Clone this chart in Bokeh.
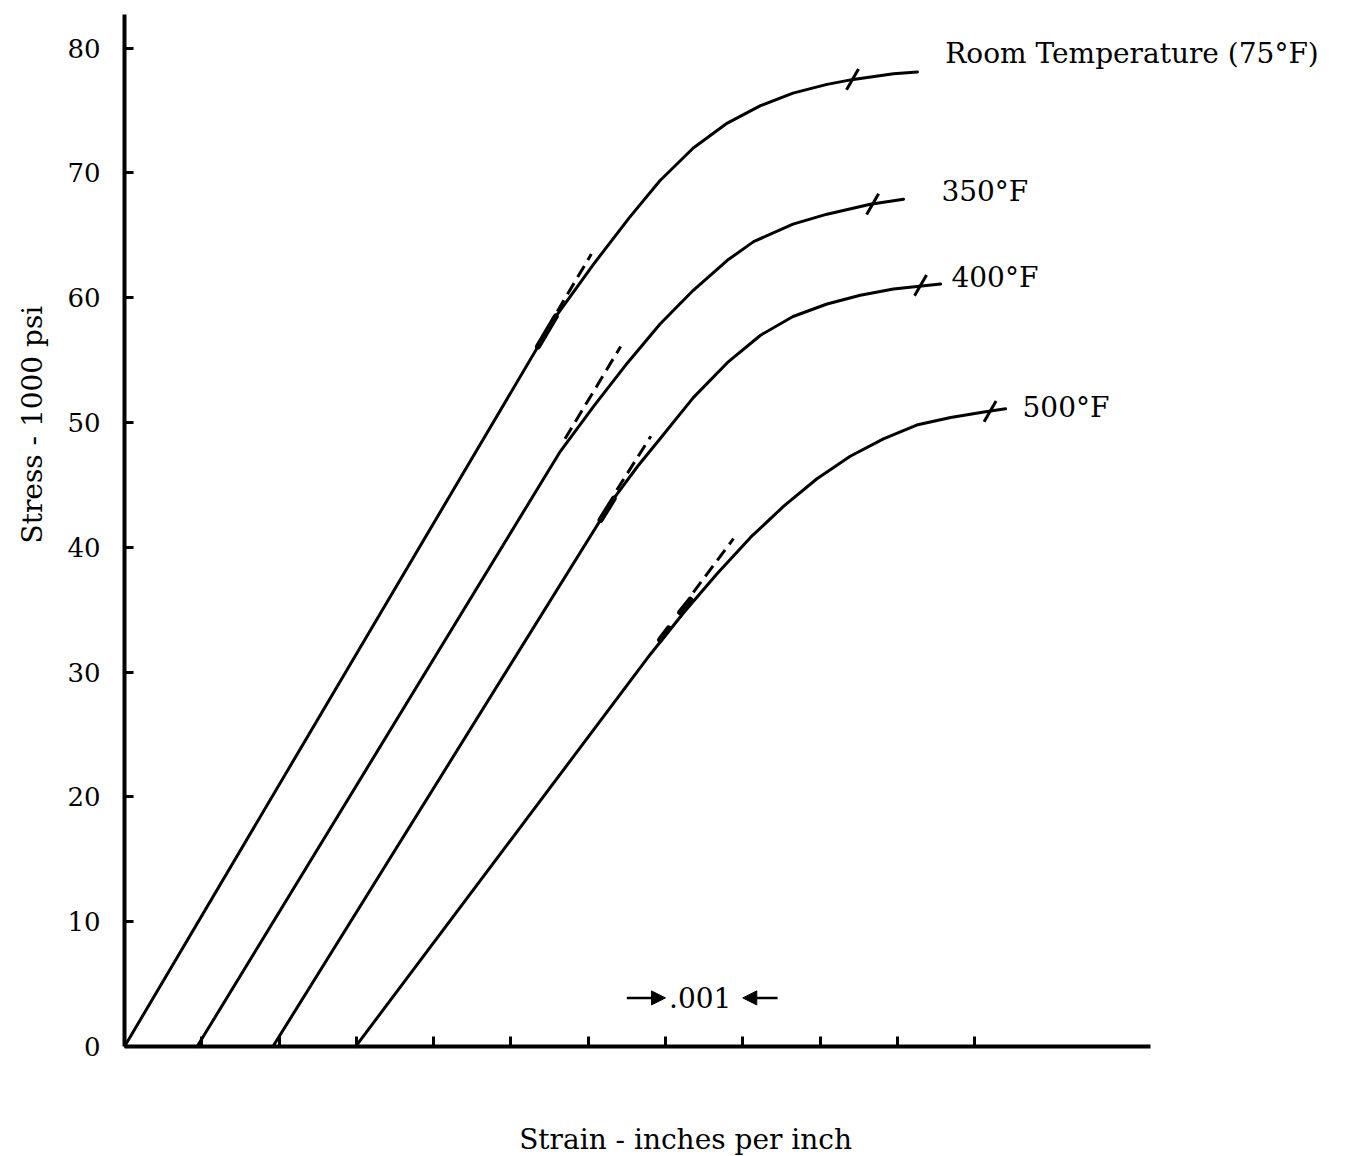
import math
from bokeh.plotting import figure
from bokeh.models import Range1d, FixedTicker, Arrow, NormalHead, Title
from bokeh.core.properties import value
from bokeh.embed import file_html
from bokeh.resources import INLINE

# Strain in units of 0.001 in/in (one x tick = .001), stress in 1000 psi
rt_strain = [0.0, 5.58, 6.07, 6.53, 6.93, 7.36, 7.80, 8.23, 8.65, 9.09, 9.43, 9.95, 10.26]
rt_stress = [0.0, 58.5, 62.7, 66.4, 69.4, 72.0, 74.0, 75.4, 76.4, 77.1, 77.5, 77.95, 78.1]
f350_strain = [0.94, 5.64, 6.07, 6.51, 6.93, 7.36, 7.80, 8.14, 8.65, 9.09, 9.65, 10.08]
f350_stress = [0.0, 47.7, 51.3, 54.8, 57.9, 60.6, 63.0, 64.5, 65.9, 66.7, 67.5, 67.9]
f400_strain = [1.92, 6.33, 6.64, 6.93, 7.36, 7.80, 8.23, 8.65, 9.09, 9.52, 9.95, 10.56]
f400_stress = [0.0, 43.9, 46.5, 48.7, 52.0, 54.8, 57.0, 58.5, 59.5, 60.2, 60.7, 61.1]
f500_strain = [2.99, 6.80, 7.24, 7.67, 8.10, 8.53, 8.96, 9.39, 9.82, 10.25, 10.69, 11.12, 11.40]
f500_stress = [0.0, 31.4, 34.8, 37.9, 40.8, 43.3, 45.5, 47.3, 48.7, 49.8, 50.4, 50.85, 51.1]

# dashed extensions of the elastic (straight) part
tangent_x0 = [5.60, 5.70, 6.37, 7.36]
tangent_y0 = [58.9, 48.7, 44.6, 36.4]
tangent_x1 = [6.04, 6.42, 6.81, 7.88]
tangent_y1 = [63.5, 56.1, 48.9, 40.7]

# heavy pencil strokes where the tangent leaves the curve
bold_x0 = [5.35, 6.16, 6.93, 7.19]
bold_y0 = [56.1, 42.2, 32.6, 34.8]
bold_x1 = [5.58, 6.33, 7.04, 7.32]
bold_y1 = [58.5, 43.9, 33.5, 35.8]

# cross marks near the end of each curve
mark_strain = [9.42, 9.68, 10.30, 11.20]
mark_stress = [77.5, 67.5, 61.0, 50.9]

# curve labels
curve_labels = ["Room Temperature (75\u00b0F)", "350\u00b0F", "400\u00b0F", "500\u00b0F"]
label_strain = [10.62, 10.57, 10.70, 11.62]
label_stress = [79.6, 68.5, 61.6, 51.2]

# axis ticks
y_ticks = [0, 10, 20, 30, 40, 50, 60, 70, 80]
x_ticks = [1, 2, 3, 4, 5, 6, 7, 8, 9, 10, 11]

# .001 scale indicator
scale_ticks = [7, 8]
scale_tails = [6.5, 8.45]
scale_level = 3.9
scale_text = ".001"

x_title = "Strain - inches per inch"
x_title_pos = (7.26, -7.43)
y_title = "Stress - 1000 psi"

FONT = "DejaVu Serif"

p = figure(width=1359, height=1156, output_backend="svg", toolbar_location=None,
           x_range=Range1d(0, 15.98), y_range=Range1d(-8.81, 82.7),
           min_border_left=124, min_border_right=0, min_border_top=14, min_border_bottom=0)
p.outline_line_color = None
p.grid.visible = False
p.background_fill_color = "white"
p.border_fill_color = "white"

for xs, ys in [(rt_strain, rt_stress), (f350_strain, f350_stress),
               (f400_strain, f400_stress), (f500_strain, f500_stress)]:
    p.line(xs, ys, line_color="black", line_width=3, line_join="round", line_cap="round")

p.segment(x0=tangent_x0, y0=tangent_y0, x1=tangent_x1, y1=tangent_y1,
          line_color="black", line_width=3, line_dash="13 7")
p.segment(x0=bold_x0, y0=bold_y0, x1=bold_x1, y1=bold_y1,
          line_color="black", line_width=6, line_cap="round")

p.scatter(mark_strain, mark_stress, marker="dash", size=24, angle=math.radians(60),
          line_color="black", line_width=3)

p.text(x=label_strain, y=label_stress, text=curve_labels, text_font=value(FONT),
       text_font_size="28px", text_align="left", text_baseline="middle", text_color="black")

# scale indicator
for tip, tail in zip(scale_ticks, scale_tails):
    p.add_layout(Arrow(end=NormalHead(size=14, fill_color="black", line_color="black", line_width=1),
                       x_start=tail, y_start=scale_level, x_end=tip, y_end=scale_level,
                       line_color="black", line_width=2.5))
p.text(x=[sum(scale_ticks) / 2 - 0.05], y=[scale_level], text=[scale_text], text_font=value(FONT),
       text_font_size="28px", text_align="center", text_baseline="middle", text_color="black")

# x axis title (inside the frame, below the fixed x axis)
p.text(x=[x_title_pos[0]], y=[x_title_pos[1]], text=[x_title], text_font=value(FONT),
       text_font_size="28px", text_align="center", text_baseline="middle", text_color="black")

# axes
ya = p.yaxis[0]
ya.ticker = FixedTicker(ticks=y_ticks)
ya.bounds = (0, 82.7)
ya.axis_line_width = 4
ya.axis_line_color = "black"
ya.major_tick_in = 9
ya.major_tick_out = 0
ya.major_tick_line_width = 3
ya.minor_tick_line_color = None
ya.major_label_standoff = 24
ya.major_label_text_font = FONT
ya.major_label_text_font_size = "26px"
ya.major_label_text_color = "black"

xa = p.xaxis[0]
xa.ticker = FixedTicker(ticks=x_ticks)
xa.fixed_location = 0
xa.bounds = (0, 13.27)
xa.axis_line_width = 4
xa.axis_line_color = "black"
xa.major_tick_in = 10
xa.major_tick_out = 0
xa.major_tick_line_width = 3
xa.minor_tick_line_color = None
xa.major_label_overrides = {t: "" for t in x_ticks}

p.add_layout(Title(text=y_title, align="left", offset=613, standoff=28, vertical_align="top",
                   text_font=FONT, text_font_size="28px", text_font_style="normal",
                   text_color="black"), "left")

open("out.html", "w").write(file_html(p, INLINE))
